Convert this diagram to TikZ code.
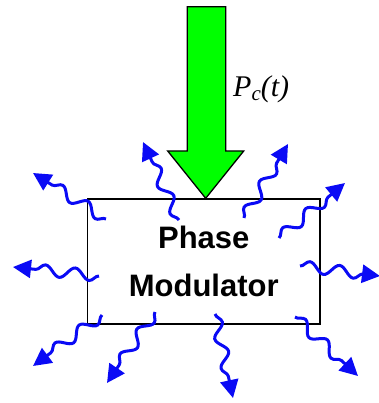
\documentclass[tikz,border=0pt]{standalone}
\usepackage{fontspec}
\setmainfont{Liberation Serif}
\setsansfont{Liberation Sans}
\usetikzlibrary{arrows.meta,decorations.pathmorphing}
\definecolor{wblue}{RGB}{10,10,245}
\definecolor{agreen}{RGB}{0,255,0}
\begin{document}
\begin{tikzpicture}[x=1pt,y=-1pt,
  wave/.style={draw=wblue, line width=3pt, decorate,
    decoration={snake, segment length=30pt, amplitude=5.5pt, post length=16pt},
    -{Triangle[length=18pt,width=18pt]}},
  boxstyle/.style={draw=black, line width=1.8pt, fill=white,
    minimum width=232.5pt, minimum height=125pt, inner sep=0pt,
    font=\sffamily\bfseries\fontsize{31}{48}\selectfont, align=center},
  bigarrow/.style={fill=agreen, draw=black, line width=1.3pt, line join=miter},
  lblstyle/.style={font=\fontsize{30}{36}\selectfont, inner sep=0pt, anchor=base west}
]
\useasboundingbox (0,0) rectangle (378,403);
\node[boxstyle] (pm) at (203.75,261.5) {Phase\\Modulator};
\coordinate (tip) at (205.7,198.3);
\draw[bigarrow] (tip) -- (243.7,151) -- (225.7,151) -- (225.7,6.7) -- (187.3,6.7) -- (187.3,151) -- (167.7,151) -- cycle;
\node[lblstyle] (lbl) at (233,97) {\itshape P\raisebox{-4pt}{\fontsize{21}{25}\selectfont\itshape c}(t)};
% wavy emission arrows
\coordinate (s1) at (106,219);  \coordinate (e1) at (33,173);
\coordinate (s2) at (179,220);  \coordinate (e2) at (143,142);
\coordinate (s3) at (244,218);  \coordinate (e3) at (288,144);
\coordinate (s4) at (279,238);  \coordinate (e4) at (345,183);
\coordinate (s5) at (300,266);  \coordinate (e5) at (380,276);
\coordinate (s6) at (295,317);  \coordinate (e6) at (358,376);
\coordinate (s7) at (215,314);  \coordinate (e7) at (233,398);
\coordinate (s8) at (155,312);  \coordinate (e8) at (107,383);
\coordinate (s9) at (102,315);  \coordinate (e9) at (33,366);
\coordinate (s10) at (99,276);  \coordinate (e10) at (13,267);
\foreach \i in {1,...,10} {\draw[wave] (s\i) -- (e\i);}
\end{tikzpicture}
\end{document}
